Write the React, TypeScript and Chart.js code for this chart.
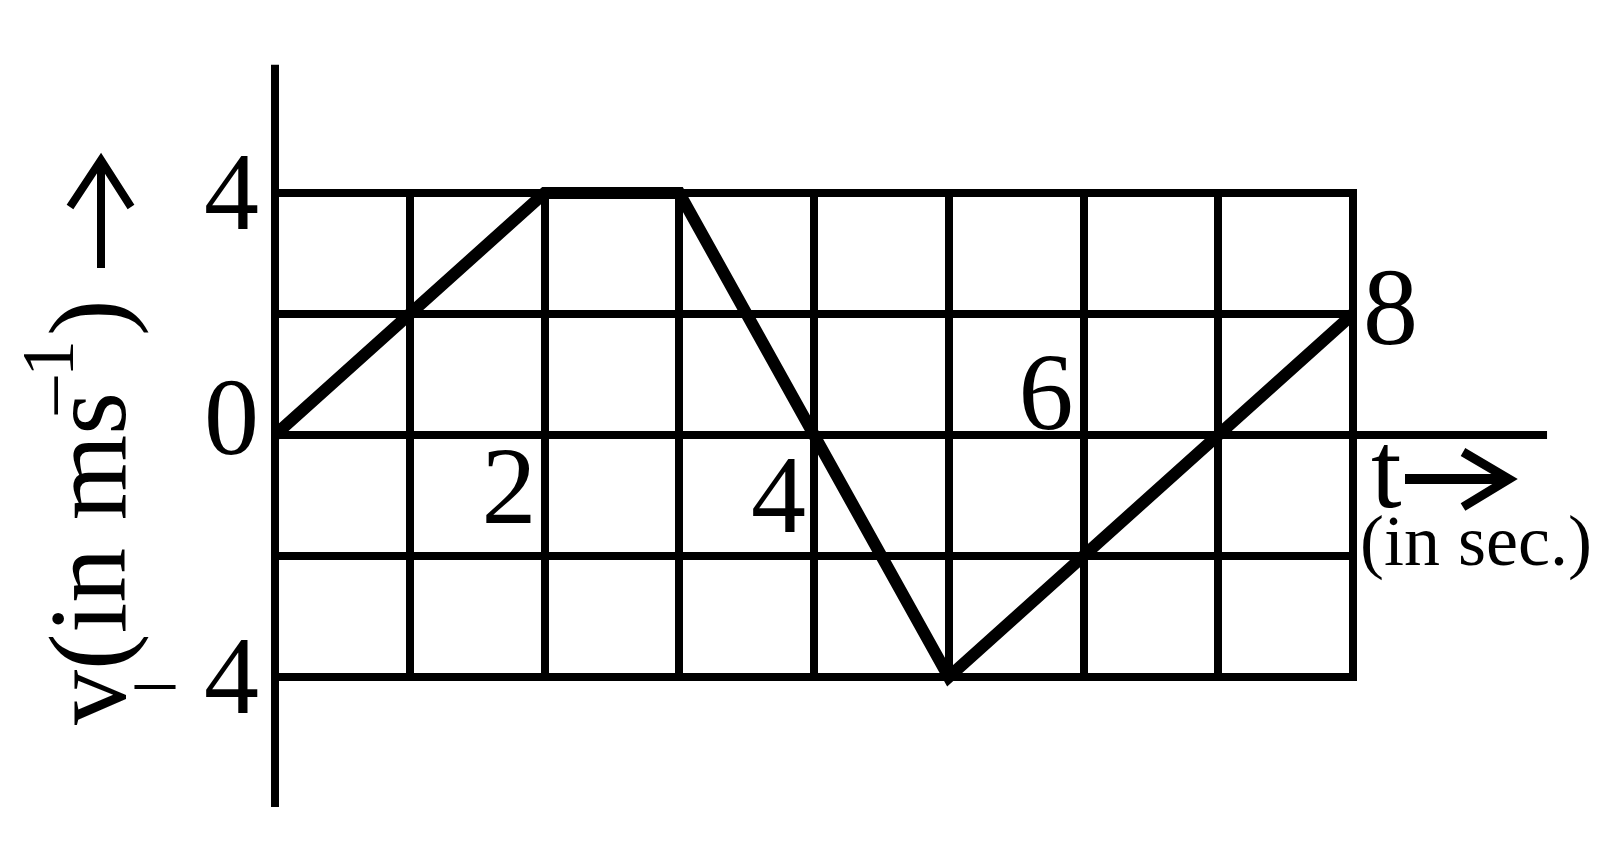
import React, { useEffect, useRef } from "react";
import { Chart, registerables } from "chart.js";

Chart.register(...registerables);

// Time (s) and velocity (m/s) at the corners of the v–t graph
const tValues = [0, 2, 3, 5, 8];
const vValues = [0, 4, 4, -4, 2];

// Tick labels
const yTickValues = [4, 0, -4];
const yTickLabels = ["4", "0", "4"];
const xTickValues = [2, 4, 6, 8];
const xTickLabels = ["2", "4", "6", "8"];

const SERIF = '"Liberation Serif", "DejaVu Serif", serif';

const annotate = {
  id: "annotate",
  afterDraw(chart: any) {
    const ctx = chart.ctx as CanvasRenderingContext2D;
    const xs = chart.scales.x;
    const ys = chart.scales.y;
    const X = (v: number) => xs.getPixelForValue(v);
    const Y = (v: number) => ys.getPixelForValue(v);
    const x0 = Math.round(X(0));
    const y0 = Math.round(Y(0));

    ctx.save();
    ctx.strokeStyle = "#000";
    ctx.fillStyle = "#000";
    ctx.lineCap = "butt";

    // clean frame corners
    ctx.lineWidth = 8;
    ctx.lineJoin = "miter";
    ctx.strokeRect(Math.round(X(0)), Math.round(Y(4)), Math.round(X(8)) - Math.round(X(0)), Math.round(Y(-4)) - Math.round(Y(4)));

    // extended axes
    ctx.lineWidth = 8;
    ctx.beginPath();
    ctx.moveTo(x0, Y(6.12));
    ctx.lineTo(x0, Y(-6.15));
    ctx.stroke();
    ctx.beginPath();
    ctx.moveTo(x0, y0);
    ctx.lineTo(X(9.44), y0);
    ctx.stroke();

    // y tick labels
    ctx.font = `110px ${SERIF}`;
    ctx.textAlign = "right";
    ctx.textBaseline = "alphabetic";
    const yOff = [36, 19, 36];
    yTickValues.forEach((v, i) => {
      ctx.fillText(yTickLabels[i], X(0) - 16, Y(v) + yOff[i]);
    });
    ctx.textAlign = "left";
    ctx.font = `80px ${SERIF}`;
    ctx.fillText("–", X(0) - 140, Y(-4) + 29);

    // x tick labels
    ctx.font = `110px ${SERIF}`;
    const xPos = [
      { dx: -8, dy: 88, align: "right", base: 0 },
      { dx: -8, dy: 97, align: "right", base: 0 },
      { dx: -10, dy: -6, align: "right", base: 0 },
      { dx: 10, dy: 30, align: "left", base: 2 },
    ];
    xTickValues.forEach((v, i) => {
      const p = xPos[i];
      ctx.textAlign = p.align as CanvasTextAlign;
      ctx.fillText(xTickLabels[i], X(v) + p.dx, Y(p.base) + p.dy);
    });

    // x axis title: t -> (in sec.)
    ctx.textAlign = "left";
    ctx.font = `110px ${SERIF}`;
    ctx.fillText("t", X(8) + 18, Y(0) + 72);
    const ay = Y(0) + 44;
    ctx.lineWidth = 10;
    ctx.beginPath();
    ctx.moveTo(X(8) + 52, ay);
    ctx.lineTo(X(8) + 154, ay);
    ctx.stroke();
    ctx.lineWidth = 9;
    ctx.lineJoin = "miter";
    ctx.beginPath();
    ctx.moveTo(X(8) + 110, ay - 27);
    ctx.lineTo(X(8) + 156, ay);
    ctx.lineTo(X(8) + 110, ay + 28);
    ctx.stroke();
    ctx.font = `72px ${SERIF}`;
    ctx.fillText("(in sec.)", X(8) + 7, Y(0) + 130);

    // y axis title (rotated)
    ctx.save();
    ctx.translate(X(0) - 150, Y(-4) + 48);
    ctx.rotate(-Math.PI / 2);
    ctx.font = `110px ${SERIF}`;
    ctx.textAlign = "left";
    const main = "v(in ms";
    ctx.fillText(main, 0, 0);
    const w = ctx.measureText(main).width;
    ctx.font = `74px ${SERIF}`;
    ctx.fillText("–1", w - 22, -52);
    ctx.font = `110px ${SERIF}`;
    ctx.fillText(")", w + 56, 0);
    ctx.restore();

    // up arrow
    const ax = X(0) - 174;
    ctx.lineWidth = 8;
    ctx.beginPath();
    ctx.moveTo(ax, Y(4) + 75);
    ctx.lineTo(ax, Y(4) - 30);
    ctx.stroke();
    ctx.beginPath();
    ctx.moveTo(ax - 31, Y(4) + 14);
    ctx.lineTo(ax, Y(4) - 33);
    ctx.lineTo(ax + 30, Y(4) + 14);
    ctx.stroke();

    ctx.restore();
  },
};

export default function App() {
  const ref = useRef<HTMLCanvasElement | null>(null);

  useEffect(() => {
    document.body.style.margin = "0";
    const canvas = ref.current!;
    const chart = new Chart(canvas, {
      type: "scatter",
      data: {
        datasets: [
          {
            data: tValues.map((t, i) => ({ x: t, y: vValues[i] })),
            showLine: true,
            borderColor: "#000",
            borderWidth: 12,
            pointRadius: 0,
            borderJoinStyle: "miter",
            borderCapStyle: "butt",
            tension: 0,
            clip: false,
          } as any,
        ],
      },
      options: {
        animation: false,
        responsive: false,
        devicePixelRatio: 1,
        layout: { padding: { left: 275, right: 267, top: 193, bottom: 187 } },
        plugins: { legend: { display: false }, tooltip: { enabled: false } },
        scales: {
          x: {
            type: "linear",
            min: 0,
            max: 8,
            ticks: { display: false, stepSize: 1 },
            grid: { color: "#000", lineWidth: 8, drawTicks: false },
            border: { display: false },
          },
          y: {
            type: "linear",
            min: -4,
            max: 4,
            ticks: { display: false, stepSize: 2 },
            grid: { color: "#000", lineWidth: 8, drawTicks: false },
            border: { display: false },
          },
        },
      },
      plugins: [annotate],
    });
    return () => chart.destroy();
  }, []);

  return (
    <div style={{ position: "fixed", left: 0, top: 0, width: 1620, height: 864, background: "#fff" }}>
      <canvas ref={ref} width={1620} height={864} style={{ display: "block" }} />
    </div>
  );
}
